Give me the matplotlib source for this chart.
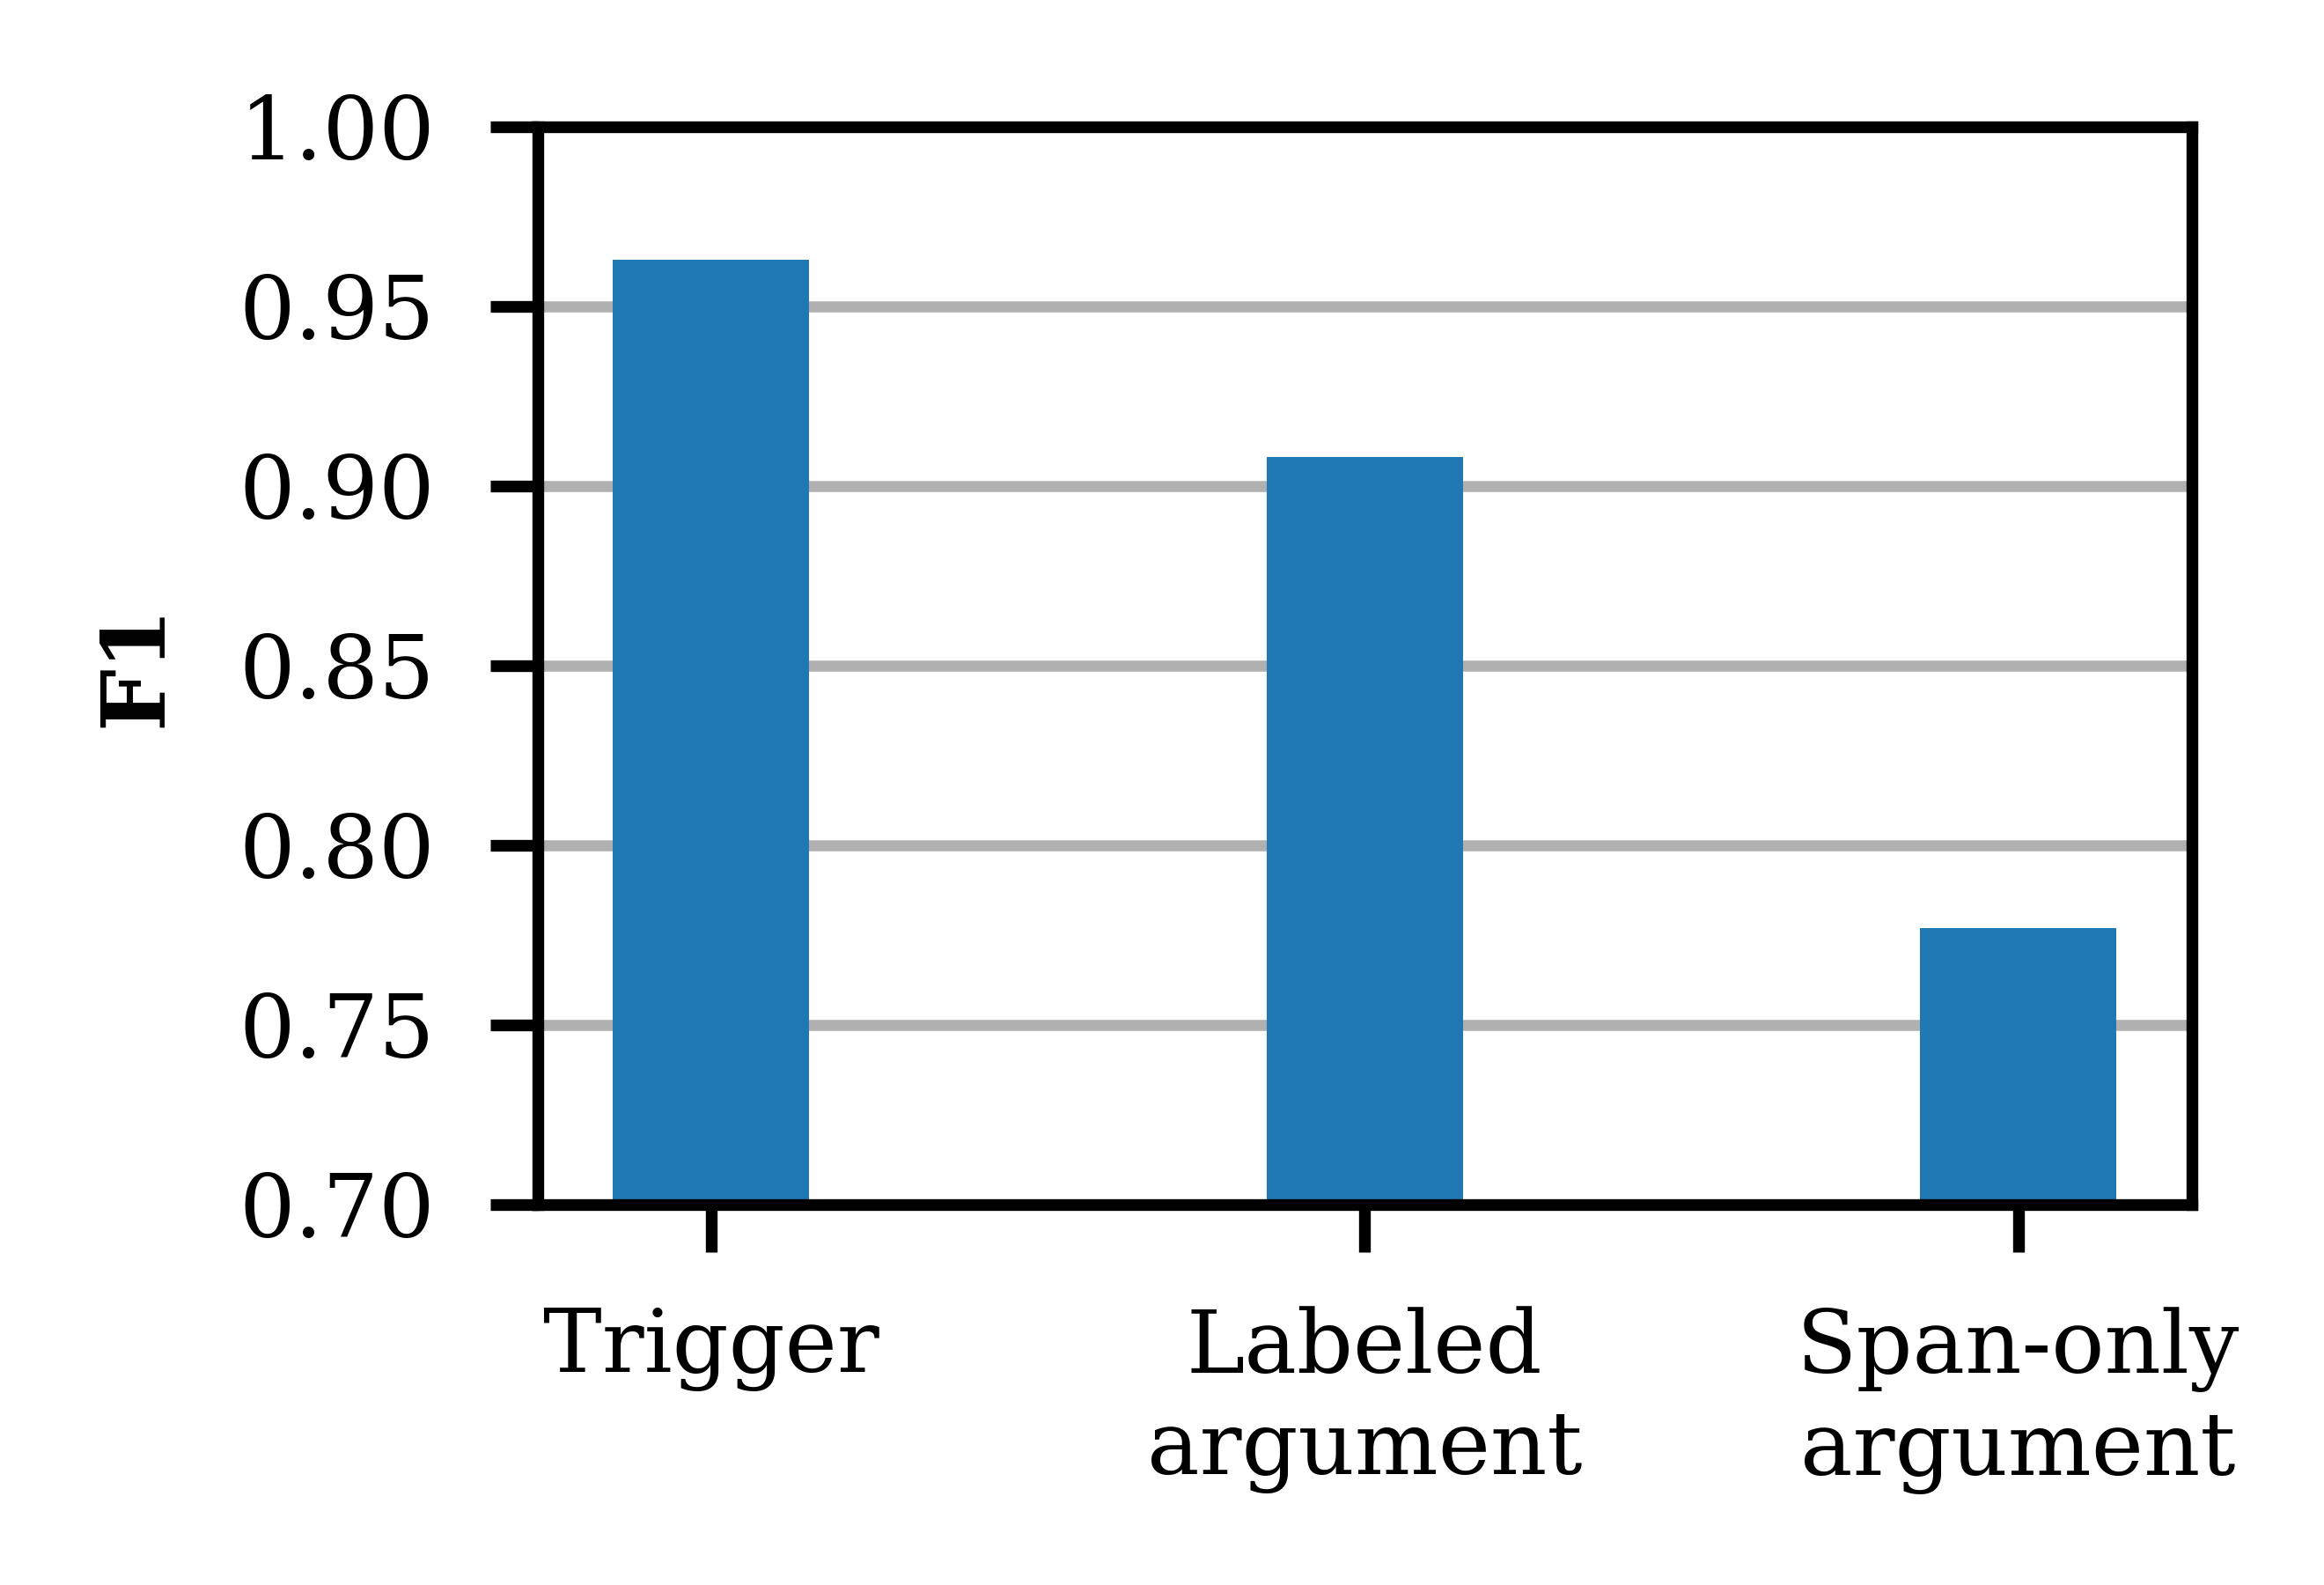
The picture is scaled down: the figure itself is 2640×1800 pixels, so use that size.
import matplotlib
matplotlib.use("Agg")
import matplotlib.pyplot as plt

# F1 per evaluation level
categories = ["Trigger", "Labeled\nargument", "Span-only\nargument"]
f1_scores = [0.963, 0.908, 0.777]

plt.rcParams["font.family"] = "DejaVu Serif"
plt.rcParams["font.size"] = 12

fig = plt.figure(figsize=(4.4, 3.0), dpi=600)
ax = fig.add_axes([0.2314, 0.24, 0.7116, 0.68])

x = list(range(len(categories)))
ax.bar(x, f1_scores, width=0.3, color="#1f77b4", zorder=2)

ax.set_ylim(0.70, 1.00)
ax.set_yticks([0.70, 0.75, 0.80, 0.85, 0.90, 0.95, 1.00])
ax.set_yticklabels([f"{v:.2f}" for v in ax.get_yticks()])
ax.set_xticks(x)
ax.set_xticklabels(categories, fontsize=12, linespacing=1.25)
ax.yaxis.grid(True, color="#b0b0b0", linewidth=1.5, zorder=0)
ax.set_axisbelow(True)

for s in ax.spines.values():
    s.set_linewidth(1.6)
ax.tick_params(axis="both", width=1.6, length=6.5, pad=7.5)
ax.set_ylabel("F1", fontweight="bold", labelpad=8)

fig.savefig("out.png", dpi=600)
